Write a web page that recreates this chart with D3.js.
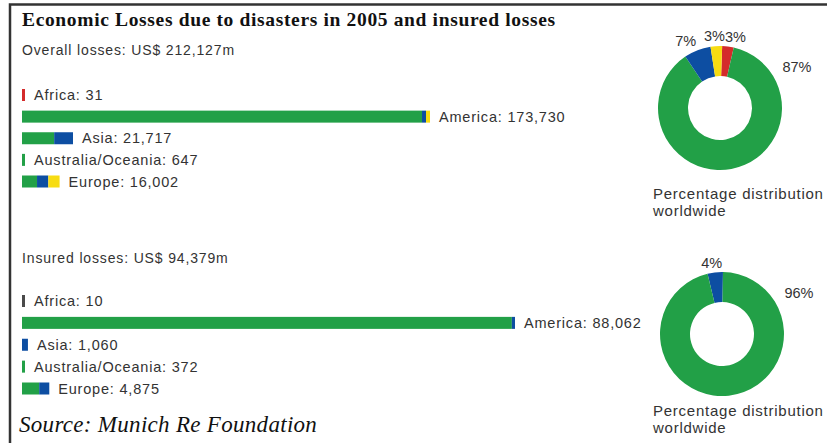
<!DOCTYPE html>
<meta charset="utf-8">
<style>
body { margin: 0; background: #fff; }
text { font-family: "Liberation Sans", Arial, sans-serif; fill: #333; }
.title { font-family: "Liberation Serif", "Times New Roman", serif; font-weight: bold; fill: #111; }
.source { font-family: "Liberation Serif", "Times New Roman", serif; font-style: italic; fill: #111; }
</style>
<svg id="svg" width="827" height="443"></svg>
<script src="https://cdn.jsdelivr.net/npm/d3@7/dist/d3.min.js"></script>
<script>
// regions, top to bottom
var regions = ["Africa", "America", "Asia", "Australia/Oceania", "Europe"];

// hazard groups (Munich Re colour scheme)
var hazards = ["meteorological", "hydrological", "climatological", "geophysical", "other"];
var hazardColors = ["#22a047", "#0d4ea2", "#f7dc12", "#d42b2b", "#4a4a4a"];

// overall losses, US$ m
var overallTotals = [31, 173730, 21717, 647, 16002];
var overallMeteo  = [0, 170330, 13700, 647, 6400];
var overallHydro  = [0, 1700, 8017, 0, 4800];
var overallClim   = [0, 1700, 0, 0, 4802];
var overallGeo    = [31, 0, 0, 0, 0];
var overallOther  = [0, 0, 0, 0, 0];

// insured losses, US$ m
var insuredTotals = [10, 88062, 1060, 372, 4875];
var insuredMeteo  = [0, 87500, 0, 372, 3070];
var insuredHydro  = [0, 562, 1060, 0, 1805];
var insuredClim   = [0, 0, 0, 0, 0];
var insuredGeo    = [0, 0, 0, 0, 0];
var insuredOther  = [10, 0, 0, 0, 0];

// percentage distribution worldwide (clockwise from top)
var overallShareKeys = ["geophysical", "meteorological", "hydrological", "climatological"];
var overallShare     = [3, 87, 7, 3];
var insuredShareKeys = ["hydrological", "meteorological"];
var insuredShare     = [4, 96];

var svg = d3.select("svg");
var color = d3.scaleOrdinal().domain(hazards).range(hazardColors);
var fmt = d3.format(",");

// frame
svg.append("path")
    .attr("d", "M10,443V4.5H827")
    .attr("fill", "none")
    .attr("stroke", "#333")
    .attr("stroke-width", 2.5);

svg.append("text").attr("class", "title")
    .attr("x", 22).attr("y", 26)
    .style("font-size", "19.5px").style("letter-spacing", "0.65px")
    .text("Economic Losses due to disasters in 2005 and insured losses");

function panel(opt) {
  var g = svg.append("g");

  g.append("text")
      .attr("x", 22).attr("y", opt.headY)
      .style("font-size", "14px").style("letter-spacing", "0.85px")
      .text(opt.heading);

  var x = d3.scaleLinear().domain([0, d3.max(opt.totals)]).range([0, opt.barMax]);
  var y = d3.scalePoint().domain(regions).range(opt.rowRange);
  var bh = 12, x0 = 22;

  regions.forEach(function(r, i) {
    var w = Math.max(x(opt.totals[i]), 3);
    var parts = hazards.map(function(h, k) { return opt.series[k][i]; });
    var sum = d3.sum(parts);
    var acc = 0;
    parts.forEach(function(v, k) {
      if (!v) return;
      g.append("rect")
          .attr("x", x0 + w * acc / sum)
          .attr("y", y(r) - bh / 2)
          .attr("width", w * v / sum)
          .attr("height", bh)
          .attr("fill", color(hazards[k]));
      acc += v;
    });
    g.append("text")
        .attr("x", x0 + w + 9)
        .attr("y", y(r))
        .attr("dy", "0.36em")
        .style("font-size", "14.5px").style("letter-spacing", "0.8px")
        .text(r + ": " + fmt(opt.totals[i]));
  });

  // donut
  var pie = d3.pie().sort(null)
      .startAngle(opt.start)
      .endAngle(opt.start + 2 * Math.PI);
  var arc = d3.arc().innerRadius(32).outerRadius(62);
  var dg = g.append("g").attr("transform", "translate(" + opt.cx + "," + opt.cy + ")");
  var slices = pie(opt.share);
  dg.selectAll("path").data(slices).enter().append("path")
      .attr("d", arc)
      .attr("fill", function(d, i) { return color(opt.shareKeys[i]); });

  // label positions on an oval ring; the big slice is labelled at upper right
  var labels = slices.map(function(d) {
    var a = d.data > 50 ? 55 * Math.PI / 180 : (d.startAngle + d.endAngle) / 2;
    return { d: d, x: 94 * Math.sin(a), y: -72 * Math.cos(a) };
  });
  var lab = dg.selectAll("text.pct").data(labels).enter().append("text")
      .attr("class", "pct")
      .attr("text-anchor", "middle")
      .attr("dy", "0.36em")
      .style("font-size", "14.5px")
      .text(function(l) { return l.d.data + "%"; })
      .each(function(l) { l.w = this.getComputedTextLength(); });
  // push small top labels apart so they just touch
  var top = labels.filter(function(l) { return l.d.data <= 50; })
      .sort(function(a, b) { return a.x - b.x; });
  for (var i = 1; i < top.length; i++) {
    var minX = top[i - 1].x + (top[i - 1].w + top[i].w) / 2;
    if (top[i].x < minX) top[i].x = minX;
  }
  lab.attr("x", function(l) { return l.x; }).attr("y", function(l) { return l.y; });

  var cap = g.append("text")
      .attr("x", 653).attr("y", opt.capY)
      .style("font-size", "15px").style("letter-spacing", "0.75px");
  cap.append("tspan").attr("x", 653).text("Percentage distribution");
  cap.append("tspan").attr("x", 653).attr("dy", 17).text("worldwide");
}

panel({
  heading: "Overall losses: US$ 212,127m", headY: 55,
  totals: overallTotals,
  series: [overallMeteo, overallHydro, overallClim, overallGeo, overallOther],
  barMax: 408, rowRange: [95, 181.5],
  share: overallShare, shareKeys: overallShareKeys,
  start: 2 * Math.PI / 180, cx: 720, cy: 108, capY: 199
});

panel({
  heading: "Insured losses: US$ 94,379m", headY: 263,
  totals: insuredTotals,
  series: [insuredMeteo, insuredHydro, insuredClim, insuredGeo, insuredOther],
  barMax: 493, rowRange: [301, 388.5],
  share: insuredShare, shareKeys: insuredShareKeys,
  start: -13.5 * Math.PI / 180, cx: 722, cy: 334, capY: 416
});

svg.append("text").attr("class", "source")
    .attr("x", 19).attr("y", 432)
    .style("font-size", "23px").style("letter-spacing", "0.3px")
    .text("Source: Munich Re Foundation");
</script>
